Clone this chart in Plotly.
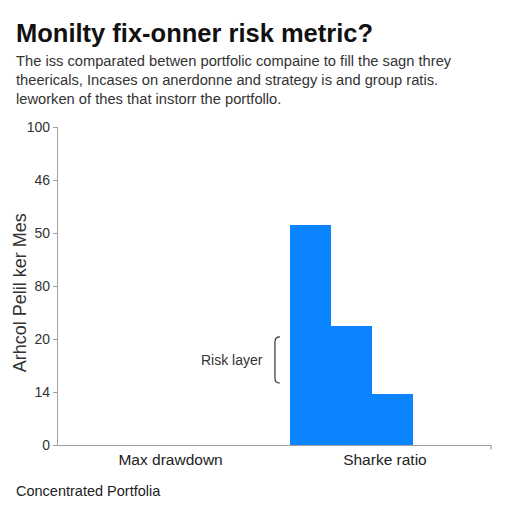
import plotly.graph_objects as go

# category labels on the x axis and their slots
categories = ['Max drawdown', 'Sharke ratio']
category_pos = [0.52, 1.51]

# y axis carries odd labels on evenly spaced steps
y_steps = [0, 1, 2, 3, 4, 5, 6]
y_labels = ['0', '14', '20', '80', '50', '46', '100']

# stepped risk layers (in axis steps)
layer_x = [1.167, 1.357, 1.547]
layer_height = [4.15, 2.25, 0.96]
layer_width = [0.19, 0.19, 0.19]

blue = '#0a84ff'
font = 'Liberation Sans, Arial, sans-serif'

fig = go.Figure()
fig.add_trace(go.Bar(x=layer_x, y=layer_height, width=layer_width,
                     marker_color=blue, marker_line_width=0,
                     showlegend=False, hoverinfo='skip'))

# bracket next to the layers
fig.add_shape(type='path',
              path='M 1.025,2.04 Q 1.002,2.04 1.002,1.94 L 1.002,1.26 Q 1.002,1.17 1.025,1.17',
              line=dict(color='#333333', width=1.2), xref='x', yref='y')
# small end tick on the x axis
fig.add_shape(type='line', x0=1, x1=1, y0=0, y1=-0.014, xref='paper', yref='paper',
              line=dict(color='#a0a0a0', width=1.2))

fig.add_annotation(x=0.956, y=1.6, xref='x', yref='y', text='Risk layer',
                   showarrow=False, xanchor='right', yanchor='middle',
                   font=dict(size=14, color='#333333', family=font))

fig.add_annotation(x=-0.1016, y=1.296, xref='paper', yref='paper',
                   text='<b>Monilty fix-onner risk metric?</b>',
                   showarrow=False, xanchor='left', yanchor='middle',
                   font=dict(size=25.5, color='#111111', family=font))

fig.add_annotation(x=-0.1016, y=1.24, xref='paper', yref='paper',
                   text='The iss comparated betwen portfolic compaine to fill the sagn threy<br>'
                        'theericals, Incases on anerdonne and strategy is and group ratis.<br>'
                        'leworken of thes that instorr the portfollo.',
                   showarrow=False, xanchor='left', yanchor='top', align='left',
                   font=dict(size=14.7, color='#333333', family=font))

fig.add_annotation(x=-0.088, y=0.48, xref='paper', yref='paper',
                   text='Arhcol Pelil ker Mes', textangle=-90,
                   showarrow=False, xanchor='center', yanchor='middle',
                   font=dict(size=18, color='#333333', family=font))

fig.add_annotation(x=-0.1016, y=-0.145, xref='paper', yref='paper',
                   text='Concentrated Portfolia',
                   showarrow=False, xanchor='left', yanchor='middle',
                   font=dict(size=14.5, color='#222222', family=font))

fig.update_layout(
    width=512, height=512,
    margin=dict(l=50, r=29, t=119, b=75),
    paper_bgcolor='white', plot_bgcolor='white',
    font=dict(family=font, color='#333333'),
    bargap=0,
)
fig.update_xaxes(range=[0, 2], tickvals=category_pos, ticktext=categories,
                 showgrid=False, zeroline=False, showline=True,
                 linecolor='#a0a0a0', linewidth=1.2, ticks='',
                 tickfont=dict(size=15.5, color='#222222'))
fig.update_yaxes(range=[0, 6], tickvals=y_steps, ticktext=y_labels,
                 showgrid=False, zeroline=False, showline=True,
                 linecolor='#a0a0a0', linewidth=1.2, ticks='outside',
                 ticklen=4, tickcolor='#a0a0a0',
                 tickfont=dict(size=14, color='#333333'))

fig.write_html('out.html')
